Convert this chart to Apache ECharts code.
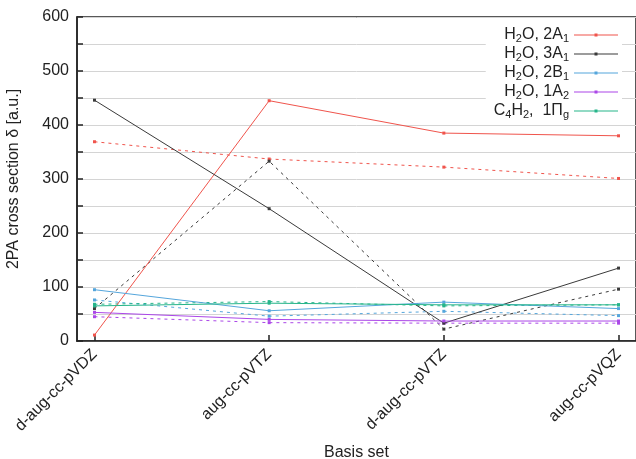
<!DOCTYPE html>
<html>
<head>
<meta charset="utf-8">
<script src="https://cdn.jsdelivr.net/npm/echarts@6/dist/echarts.min.js"></script>
<style>
	html, body { margin: 0; padding: 0; background: #fff; }
	#chart { width: 636px; height: 459px; }
</style>
</head>
<body>
<div id="chart"></div>
<script>
const basisSets = ['d-aug-cc-pVDZ', 'aug-cc-pVTZ', 'd-aug-cc-pVTZ', 'aug-cc-pVQZ'];

// solid lines
const h2o2A1 = [11, 445, 385, 380];
const h2o3A1 = [446, 245, 33, 135];
const h2o2B1 = [95, 56, 72, 60];
const h2o1A2 = [53, 40, 37, 37];
const c4h21Pg = [65, 70, 67, 67];

// dashed lines
const h2o2A1Dash = [369, 337, 322, 301];
const h2o3A1Dash = [60, 333, 22, 96];
const h2o2B1Dash = [76, 46, 55, 47];
const h2o1A2Dash = [45, 34, 33, 33];
const c4h21PgDash = [68, 73, 65, 67];

const yTicks = [0, 100, 200, 300, 400, 500, 600];

const states = [
	{ key: 's1', label: '{a|H}{s|2}{a|O, 2A}{s|1}', color: '#f0544c', solid: h2o2A1, dash: h2o2A1Dash },
	{ key: 's2', label: '{a|H}{s|2}{a|O, 3A}{s|1}', color: '#3a3a3a', solid: h2o3A1, dash: h2o3A1Dash },
	{ key: 's3', label: '{a|H}{s|2}{a|O, 2B}{s|1}', color: '#55a6dc', solid: h2o2B1, dash: h2o2B1Dash },
	{ key: 's4', label: '{a|H}{s|2}{a|O, 1A}{s|2}', color: '#ab47e8', solid: h2o1A2, dash: h2o1A2Dash },
	{ key: 's5', label: '{a|C}{s|4}{a|H}{s|2}{a|,  1Π}{s|g}', color: '#26b58a', solid: c4h21Pg, dash: c4h21PgDash }
];

// legend sample: thin line with a small dot in the middle (44 x 10 box)
const legendIcon = 'path://M0,4.5 L44,4.5 L44,5.5 L0,5.5 Z M20.5,3.5 L23.5,3.5 L23.5,6.5 L20.5,6.5 Z';

const toPoints = arr => arr.map((v, i) => [i, v]);

const series = [];
states.forEach(st => {
	series.push({
		name: st.key + 'd',
		type: 'line',
		data: toPoints(st.dash),
		symbol: 'rect',
		symbolSize: 3,
		lineStyle: { color: st.color, width: 1, type: [3, 4] },
		itemStyle: { color: st.color },
		animation: false,
		z: 2
	});
});
states.forEach(st => {
	series.push({
		name: st.key,
		type: 'line',
		data: toPoints(st.solid),
		symbol: 'rect',
		symbolSize: 3,
		lineStyle: { color: st.color, width: 1 },
		itemStyle: { color: st.color },
		animation: false,
		z: 3
	});
});

const labelFor = {};
states.forEach(st => { labelFor[st.key] = st.label; });

const chart = echarts.init(document.getElementById('chart'), null, { renderer: 'canvas' });

chart.setOption({
	backgroundColor: '#fff',
	textStyle: { fontFamily: 'Liberation Sans, Arial, sans-serif' },
	grid: {
		left: 77, top: 17, right: 0, bottom: 118,
		outerBoundsMode: 'none',
		containLabel: false,
		show: true, borderColor: '#222', borderWidth: 1.5, backgroundColor: 'transparent'
	},
	legend: {
		data: states.map(s => ({ name: s.key, icon: legendIcon })),
		right: 14,
		top: 24,
		orient: 'vertical',
		align: 'right',
		itemWidth: 44,
		itemHeight: 10,
		itemGap: 1,
		backgroundColor: '#fff',
		padding: [2, 4, 4, 8],
		formatter: name => labelFor[name],
		textStyle: {
			color: '#222',
			rich: {
				a: { fontSize: 16, lineHeight: 17, color: '#222', fontFamily: 'Liberation Sans, Arial, sans-serif' },
				s: { fontSize: 11, lineHeight: 10, padding: [7, 0, 0, 0], color: '#222', fontFamily: 'Liberation Sans, Arial, sans-serif' }
			}
		}
	},
	xAxis: {
		type: 'value',
		min: -0.1,
		max: 3.1,
		name: 'Basis set',
		nameLocation: 'middle',
		nameGap: 104,
		nameTextStyle: { fontSize: 16, color: '#222' },
		axisLine: { show: true, onZero: false, lineStyle: { color: '#222', width: 1.5 } },
		axisTick: { show: true, inside: true, length: 6, customValues: [0, 1, 2, 3], lineStyle: { color: '#222', width: 1.5 } },
		axisLabel: {
			customValues: [0, 1, 2, 3],
			formatter: v => basisSets[Math.round(v)],
			rotate: 45,
			fontSize: 16,
			color: '#222',
			margin: 11
		},
		splitLine: { show: false }
	},
	yAxis: {
		type: 'value',
		min: 0,
		max: 600,
		interval: 100,
		name: '2PA cross section δ [a.u.]',
		nameLocation: 'middle',
		nameGap: 55,
		nameTextStyle: { fontSize: 16, color: '#222' },
		axisLine: { show: true, onZero: false, lineStyle: { color: '#222', width: 1.5 } },
		axisTick: { show: true, inside: true, length: 6, lineStyle: { color: '#222', width: 1.5 } },
		minorTick: { show: true, splitNumber: 2, length: 6, lineStyle: { color: '#222', width: 1.5 } },
		axisLabel: {
			fontSize: 16,
			color: '#222',
			margin: 8,
			customValues: yTicks
		},
		splitLine: { show: true, lineStyle: { color: '#d4d4d4', width: 1 } },
		minorSplitLine: { show: true, lineStyle: { color: '#d4d4d4', width: 1 } }
	},
	series: series
});
</script>
</body>
</html>
